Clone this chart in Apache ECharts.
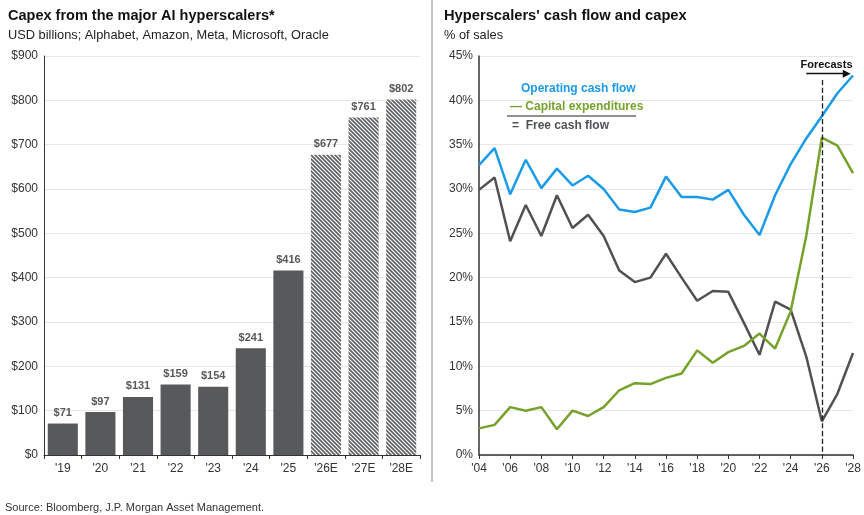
<!DOCTYPE html>
<html>
<head>
<meta charset="utf-8">
<script src="https://cdn.jsdelivr.net/npm/echarts@6/dist/echarts.min.js"></script>
<style>
html,body{margin:0;padding:0;background:#fff;}
#c{width:864px;height:515px;}
</style>
</head>
<body>
<div id="c"></div>
<script>
// ---- Data ----
const capexCategories = ["'19","'20","'21","'22","'23","'24","'25","'26E","'27E","'28E"];
const capexValues = [71, 97, 131, 159, 154, 241, 416, 677, 761, 802];
const forecastFlags = [false,false,false,false,false,false,false,true,true,true];

const years = [2004,2005,2006,2007,2008,2009,2010,2011,2012,2013,2014,2015,2016,2017,2018,2019,2020,2021,2022,2023,2024,2025,2026,2027,2028];
const operatingCashFlow = [32.7,34.6,29.4,33.3,30.1,32.3,30.4,31.5,30.0,27.7,27.4,27.9,31.4,29.1,29.1,28.8,29.9,27.1,24.8,29.3,32.8,35.7,38.2,40.8,42.8];
const capitalExpenditures = [3.0,3.4,5.4,5.0,5.4,2.9,5.0,4.4,5.4,7.3,8.1,8.0,8.7,9.2,11.8,10.4,11.6,12.3,13.7,12.0,16.2,24.7,35.8,34.9,31.8];
const freeCashFlow = [29.9,31.3,24.1,28.2,24.7,29.3,25.6,27.1,24.7,20.8,19.5,20.0,22.7,20.0,17.4,18.5,18.4,14.9,11.3,17.3,16.4,11.1,3.8,6.9,11.5];

const leftTicksMax = 900, leftTickStep = 100;
const rightTicksMax = 45, rightTickStep = 5;

// ---- Hatch pattern ----
function hatch(){
  const s = 4;
  const cv = document.createElement('canvas');
  cv.width = s; cv.height = s;
  const ctx = cv.getContext('2d');
  ctx.fillStyle = '#ffffff';
  ctx.fillRect(0,0,s,s);
  ctx.strokeStyle = '#606264';
  ctx.lineWidth = 1.7;
  for (let c = -s; c <= s; c += s){
    ctx.beginPath();
    ctx.moveTo(-1, c-1);
    ctx.lineTo(s+1, c+s+1);
    ctx.stroke();
  }
  return cv;
}
const hatchImg = hatch();

const FONT = '"Liberation Sans", Arial, sans-serif';
const BAR = '#57595b';
const BLUE = '#1a9be8';
const GREEN = '#76a22b';
const GRAY = '#4f5254';

const chart = echarts.init(document.getElementById('c'), null, {renderer:'canvas'});

const barData = capexValues.map((v,i)=>({
  value: v,
  itemStyle: forecastFlags[i] ? {color:{image:hatchImg, repeat:'repeat'}} : {color: BAR}
}));

const pairs = arr => years.map((y,i)=>[y, arr[i]]);

const option = {
  animation:false,
  textStyle:{fontFamily:FONT},
  title:[
    {text:'Capex from the major AI hyperscalers*', left:3, top:3, textStyle:{fontFamily:FONT,fontSize:14.5,fontWeight:'bold',color:'#111'}},
    {text:'USD billions; Alphabet, Amazon, Meta, Microsoft, Oracle', left:3, top:24, textStyle:{fontFamily:FONT,fontSize:12.8,fontWeight:'normal',color:'#222'}},
    {text:"Hyperscalers' cash flow and capex", left:439, top:3, textStyle:{fontFamily:FONT,fontSize:14.7,fontWeight:'bold',color:'#111'}},
    {text:'% of sales', left:439, top:24, textStyle:{fontFamily:FONT,fontSize:12.8,fontWeight:'normal',color:'#222'}},
    {text:'Source: Bloomberg, J.P. Morgan Asset Management.', left:0, top:497, textStyle:{fontFamily:FONT,fontSize:11,fontWeight:'normal',color:'#333'}}
  ],
  grid:[
    {left:44, right:444, top:56, bottom:60},
    {left:479, right:11, top:56, bottom:60}
  ],
  xAxis:[
    {type:'category', gridIndex:0, data:capexCategories,
      axisLine:{lineStyle:{color:'#333',width:1}},
      axisTick:{show:true, length:4, lineStyle:{color:'#333'}},
      axisLabel:{color:'#333', fontSize:12, fontFamily:FONT, margin:8}},
    {type:'value', gridIndex:1, min:2004, max:2028, interval:2,
      axisLine:{lineStyle:{color:'#333',width:1.5}},
      axisTick:{show:true, length:4, lineStyle:{color:'#333'}},
      splitLine:{show:false},
      axisLabel:{color:'#333', fontSize:12, fontFamily:FONT, margin:8, formatter:v=>"'"+String(v).slice(2)}}
  ],
  yAxis:[
    {type:'value', gridIndex:0, min:0, max:leftTicksMax, interval:leftTickStep,
      axisLine:{show:true, lineStyle:{color:'#333',width:1}},
      axisTick:{show:false},
      splitLine:{lineStyle:{color:'#e6e6e6'}},
      axisLabel:{color:'#333', fontSize:12, fontFamily:FONT, margin:6, formatter:v=>'$'+v}},
    {type:'value', gridIndex:1, min:0, max:rightTicksMax, interval:rightTickStep,
      axisLine:{show:true, lineStyle:{color:'#333',width:1.5}},
      axisTick:{show:false},
      splitLine:{lineStyle:{color:'#e6e6e6'}},
      axisLabel:{color:'#333', fontSize:12, fontFamily:FONT, margin:6, formatter:v=>v+'%'}}
  ],
  series:[
    {type:'bar', xAxisIndex:0, yAxisIndex:0, data:barData, barCategoryGap:'20%',
      label:{show:true, position:'top', distance:5, formatter:p=>'$'+p.value, color:'#595959', fontWeight:'bold', fontSize:11, fontFamily:FONT}},
    {type:'line', name:'Operating cash flow', xAxisIndex:1, yAxisIndex:1, data:pairs(operatingCashFlow), symbol:'none',
      lineStyle:{color:BLUE, width:2.5}, itemStyle:{color:BLUE}, z:3},
    {type:'line', name:'Free cash flow', xAxisIndex:1, yAxisIndex:1, data:pairs(freeCashFlow), symbol:'none',
      lineStyle:{color:GRAY, width:2.5}, itemStyle:{color:GRAY}, z:2},
    {type:'line', name:'Capital expenditures', xAxisIndex:1, yAxisIndex:1, data:pairs(capitalExpenditures), symbol:'none',
      lineStyle:{color:GREEN, width:2.5}, itemStyle:{color:GREEN}, z:4,
      markLine:{silent:true, animation:false, symbol:'none',
        data:[
          [{coord:[2026,42.3], lineStyle:{type:'dashed', color:'#222', width:1.3}, label:{show:false}},{coord:[2026,0]}],
          [{coord:[2025,43.0], symbol:'none', lineStyle:{type:'solid', color:'#111', width:1.3},
            label:{show:true, formatter:'Forecasts', position:'insideMiddleTop', distance:3, color:'#111', fontWeight:'bold', fontSize:11, fontFamily:FONT}},
           {coord:[2027.6,43.0], symbol:'triangle', symbolSize:[8,8], symbolRotate:-90}]
        ]}}
  ],
  graphic:[
    {type:'line', shape:{x1:432,y1:0,x2:432,y2:482}, style:{stroke:'#888', lineWidth:1}},
    {type:'text', left:521, top:83, style:{text:'Operating cash flow', fill:BLUE, font:'bold 12px '+FONT}},
    {type:'text', left:510, top:101, style:{text:'— Capital expenditures', fill:GREEN, font:'bold 12px '+FONT}},
    {type:'line', shape:{x1:507,y1:116,x2:636,y2:116}, style:{stroke:'#222', lineWidth:1}},
    {type:'text', left:512, top:120, style:{text:'=  Free cash flow', fill:GRAY, font:'bold 12px '+FONT}}
  ]
};
chart.setOption(option);
</script>
</body>
</html>
